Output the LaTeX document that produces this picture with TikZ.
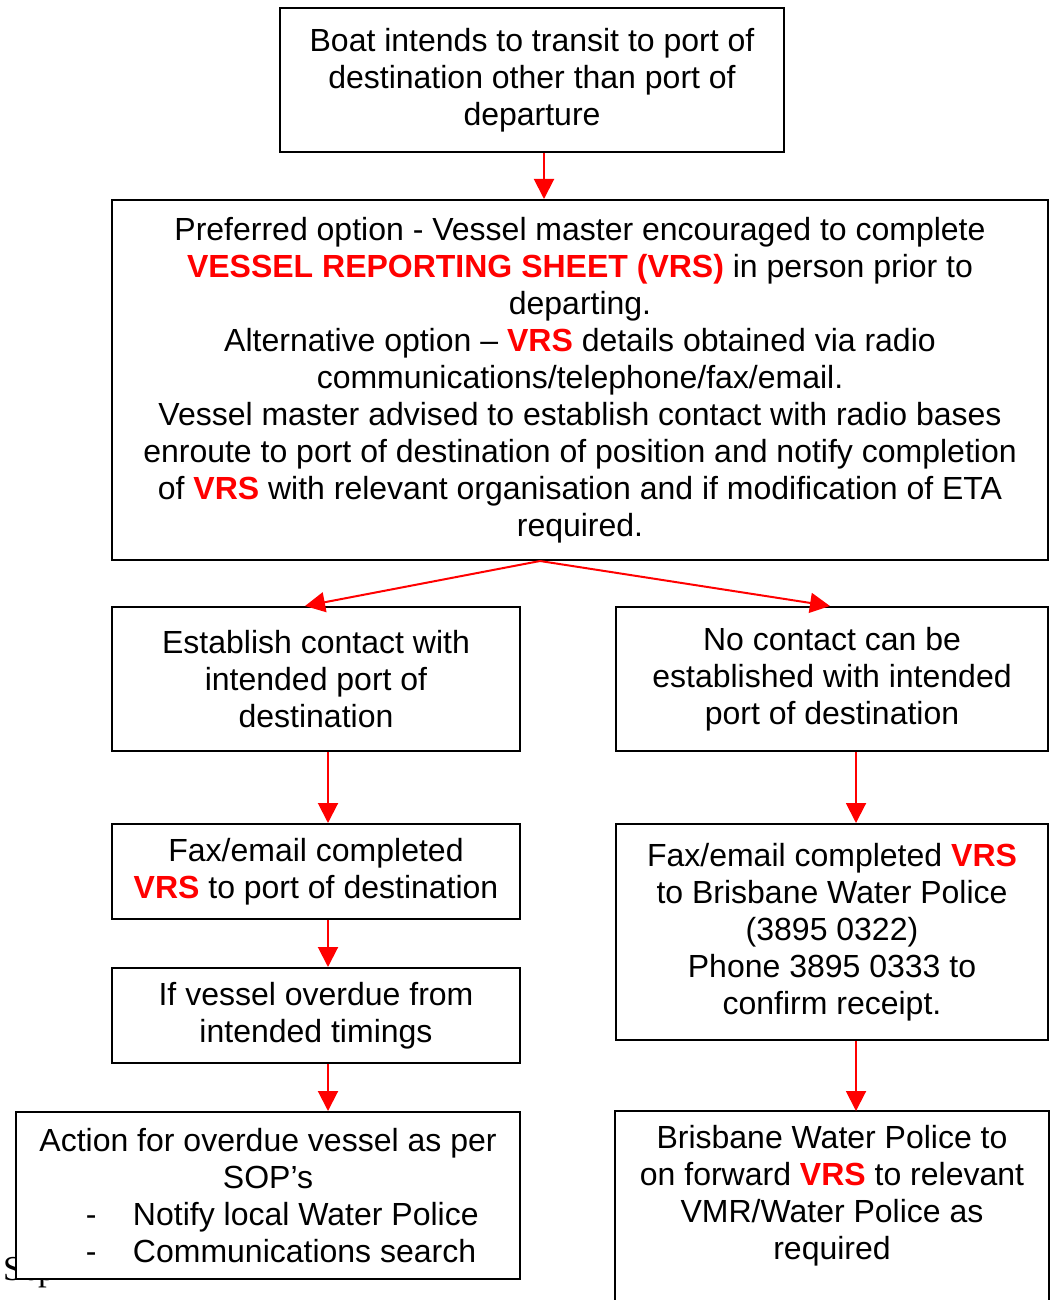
\documentclass[tikz,border=0pt]{standalone}
\usepackage{fontspec}
\setmainfont{Liberation Sans}
\newfontfamily\pageserif{Liberation Serif}
\usetikzlibrary{arrows.meta}
\definecolor{vrsred}{RGB}{255,0,0}
\newcommand{\vrs}[1]{\textcolor{vrsred}{\textbf{#1}}}

\begin{document}
\begin{tikzpicture}[x=1pt,y=-1pt,
  box/.style={draw,line width=2pt,fill=white,align=center,inner sep=0pt,font=\fontsize{32}{37}\selectfont},
  arr/.style={draw=vrsred,line width=2pt,-{Triangle[length=20pt,width=20pt]}}]
        \path[use as bounding box,clip] (0,0) rectangle (1057,1300);
        \node[box,minimum width=504pt,minimum height=144pt] (b1) at (532,80) {Boat intends to transit to port of\\destination other than port of\\departure};
        \node[box,minimum width=936pt,minimum height=360pt] (b2) at (580,380) {Preferred option - Vessel master encouraged to complete\\\vrs{VESSEL REPORTING SHEET (VRS)} in person prior to\\departing.\\Alternative option -- \vrs{VRS} details obtained via radio\\communications/telephone/fax/email.\\Vessel master advised to establish contact with radio bases\\enroute to port of destination of position and notify completion\\of \vrs{VRS} with relevant organisation and if modification of ETA\\required.};
        \node[box,minimum width=408pt,minimum height=144pt] (b3) at (316,679) {Establish contact with\\intended port of\\destination};
        \node[box,minimum width=432pt,minimum height=144pt] (b4) at (832,679) {No contact can be\\established with intended\\port of destination};
        \node[box,minimum width=408pt,minimum height=95pt] (b5) at (316,871.5) {Fax/email completed\\\vrs{VRS} to port of destination};
        \node[box,minimum width=408pt,minimum height=95pt] (b6) at (316,1015.5) {If vessel overdue from\\intended timings};
        % page text behind the last box
        \node[anchor=base west,inner sep=0pt,font=\pageserif\fontsize{35}{40}\selectfont] (pg) at (3,1280) {Sep};
        \node[box,minimum width=504pt,minimum height=167pt] (b7) at (268,1195.5) {Action for overdue vessel as per\\SOP’s\\\makebox[504pt][l]{\hspace*{70pt}\makebox[47pt][l]{-}Notify local Water Police}\\\makebox[504pt][l]{\hspace*{70pt}\makebox[47pt][l]{-}Communications search}};
        \node[box,minimum width=432pt,minimum height=216pt] (b8) at (832,932) {Fax/email completed \vrs{VRS}\\to Brisbane Water Police\\(3895 0322)\\Phone 3895 0333 to\\confirm receipt.};
        \node[box,draw=none,minimum width=432pt,minimum height=167pt] (b9) at (832,1195.5) {Brisbane Water Police to\\on forward \vrs{VRS} to relevant\\VMR/Water Police as\\required};
        \draw[line width=2pt] ([yshift=-40pt]b9.south west) |- (b9.north east) -- ([yshift=-40pt]b9.south east);
        \draw[arr] ([xshift=12pt]b1.south) -- ([xshift=12pt]b1.south |- b2.north);
        \draw[arr] ([xshift=-40pt]b2.south) -- ([xshift=-11pt]b3.north);
        \draw[arr] ([xshift=-40pt]b2.south) -- ([xshift=-2pt]b4.north);
        \draw[arr] ([xshift=12pt]b3.south) -- ([xshift=12pt]b3.south |- b5.north);
        \draw[arr] ([xshift=12pt]b5.south) -- ([xshift=12pt]b5.south |- b6.north);
        \draw[arr] ([xshift=12pt]b6.south) -- ([xshift=12pt]b6.south |- b7.north);
        \draw[arr] ([xshift=24pt]b4.south) -- ([xshift=24pt]b4.south |- b8.north);
        \draw[arr] ([xshift=24pt]b8.south) -- ([xshift=24pt]b8.south |- b9.north);
      \end{tikzpicture}
\end{document}
